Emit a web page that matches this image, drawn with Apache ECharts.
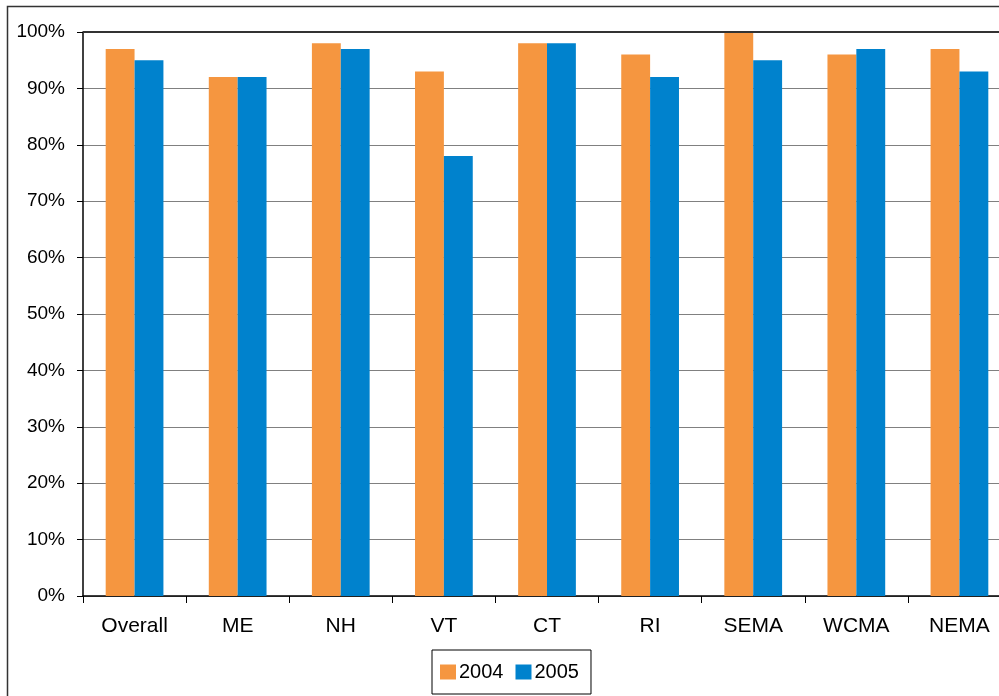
<!DOCTYPE html>
<html>
<head>
<meta charset="utf-8">
<script src="https://cdn.jsdelivr.net/npm/echarts@6/dist/echarts.min.js"></script>
<style>
  html, body { margin: 0; padding: 0; background: #fff; overflow: hidden; }
  #chart { width: 999px; height: 696px; }
</style>
</head>
<body>
<div id="chart"></div>
<script>
// Regions compared in the chart
const categories = ['Overall', 'ME', 'NH', 'VT', 'CT', 'RI', 'SEMA', 'WCMA', 'NEMA'];
// Percentages by year
const values2004 = [97, 92, 98, 93, 98, 96, 100, 96, 97];
const values2005 = [95, 92, 97, 78, 98, 92, 95, 97, 93];
const seriesNames = ['2004', '2005'];
const axisMax = 100;

const chart = echarts.init(document.getElementById('chart'), null, { renderer: 'canvas' });

const font = '"Liberation Sans", Arial, sans-serif';

chart.setOption({
  animation: false,
  backgroundColor: '#ffffff',
  color: ['#f59640', '#0082cd'],
  // chart frame: only the left and top edges fall inside the canvas
  graphic: [{
    type: 'polyline',
    z: -1,
    shape: { points: [[7.5, 710], [7.5, 6.5], [1010, 6.5]] },
    style: { fill: 'none', stroke: '#333333', lineWidth: 1.5 }
  }],
  grid: {
    left: 83, top: 32, width: 928, height: 564,
    outerBoundsMode: 'none',
    containLabel: false,
    show: false
  },
  legend: {
    data: seriesNames,
    left: 432, top: 650,
    orient: 'horizontal',
    itemWidth: 16, itemHeight: 15, itemGap: 12,
    icon: 'rect',
    borderColor: '#000000', borderWidth: 1,
    padding: [12, 12, 12, 8],
    textStyle: { fontFamily: font, fontSize: 20, color: '#000', padding: [0, 0, 0, -2] }
  },
  xAxis: {
    type: 'category',
    data: categories,
    axisLine: { lineStyle: { color: '#000', width: 1.5 } },
    axisTick: { show: true, length: 7, lineStyle: { color: '#000' } },
    axisLabel: { fontFamily: font, fontSize: 21, color: '#000', margin: 20 }
  },
  yAxis: {
    type: 'value',
    min: 0, max: axisMax, interval: 10,
    axisLine: { show: true, lineStyle: { color: '#000', width: 1.5 } },
    axisTick: { show: true, length: 6, lineStyle: { color: '#000' } },
    splitLine: { lineStyle: { color: '#808080', width: 1 } },
    axisLabel: { fontFamily: font, fontSize: 19, color: '#000', margin: 18, formatter: '{value}%' }
  },
  series: [
    {
      name: seriesNames[0], type: 'bar', data: values2004, barGap: '0%', barCategoryGap: '44%',
      markLine: {
        silent: true,
        symbol: ['none', 'none'],
        label: { show: false },
        lineStyle: { color: '#333333', width: 2, type: 'solid' },
        data: [{ yAxis: axisMax }]
      }
    },
    { name: seriesNames[1], type: 'bar', data: values2005, barGap: '0%', barCategoryGap: '44%' }
  ]
});
</script>
</body>
</html>
